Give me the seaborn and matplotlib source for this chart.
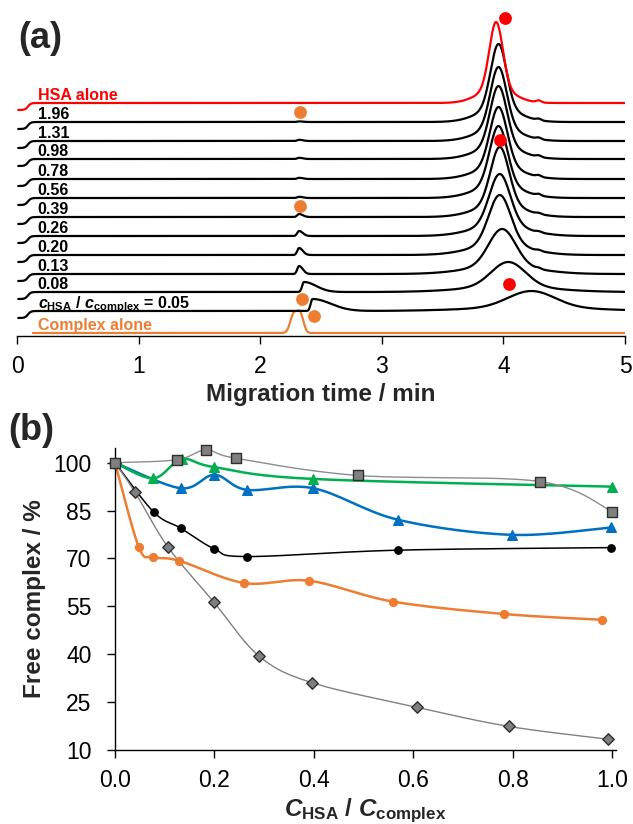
import numpy as np
import pandas as pd
import matplotlib.pyplot as plt
import seaborn as sns

# ---------------- panel (a): electropherograms ----------------
trace_labels = ["Complex alone", r"$c_{\rm HSA}$ / $c_{\rm complex}$ = 0.05", "0.08", "0.13",
                "0.20", "0.26", "0.39", "0.56", "0.78", "0.98", "1.31", "1.96", "HSA alone"]
trace_colors = ["#ED7D31"] + ["black"] * 11 + ["#FF0000"]
offsets = [0, 22, 41, 59, 78, 97, 116, 135, 154, 174, 192, 211, 230]

# HSA peak (position, height, width)
hsa_pos = [0, 4.23, 4.04, 3.99, 3.97, 3.97, 3.97, 3.96, 3.96, 3.96, 3.96, 3.96, 3.94]
hsa_height = [0, 20, 30, 45, 60, 62, 70, 72, 72, 73, 74, 78, 81]
hsa_width = [0.1, 0.19, 0.14, 0.11, 0.09, 0.085, 0.075, 0.072, 0.07, 0.068, 0.066, 0.064, 0.055]
# free complex peak
cx_pos = [2.30, 2.43, 2.36, 2.32, 2.32, 2.32, 2.32, 2.32, 2.32, 2.32, 2.32, 2.32, 2.32]
cx_height = [19, 12, 10, 8, 7, 5, 3, 1.2, 1.2, 1.2, 1.2, 0.6, 0]
cx_tail = [0.03, 0.15, 0.10, 0.03, 0.03, 0.03, 0.03, 0.03, 0.03, 0.03, 0.03, 0.03, 0.03]
# small bump after the HSA peak
bump_height = [0, 0, 0, 1, 1, 1, 1, 1.5, 1.5, 1.5, 1.5, 1.5, 2]

red_dots_t = [4.01, 3.97, 4.05]
red_dots_y = [315, 193, 49]
orange_dots_t = [2.33, 2.33, 2.34, 2.44]
orange_dots_y = [221, 127, 34, 17]

# ---------------- panel (b): free complex vs ratio ----------------
sq_x = [0.0, 0.124, 0.183, 0.243, 0.488, 0.855, 1.0]
sq_y = [100, 100.9, 104.0, 101.4, 96.0, 94.1, 84.7]
green_x = [0.0, 0.077, 0.134, 0.200, 0.399, 1.0]
green_y = [100, 95.1, 101.1, 98.6, 94.9, 92.5]
blue_x = [0.0, 0.132, 0.200, 0.265, 0.399, 0.570, 0.798, 0.998]
blue_y = [100, 92.0, 96.2, 91.5, 92.0, 82.1, 77.4, 79.7]
black_x = [0.0, 0.078, 0.132, 0.200, 0.265, 0.570, 0.998]
black_y = [100, 84.5, 79.5, 73.0, 70.6, 72.6, 73.4]
orange_x = [0.0, 0.048, 0.077, 0.129, 0.260, 0.391, 0.559, 0.783, 0.979]
orange_y = [100, 73.5, 70.4, 69.3, 62.3, 63.0, 56.5, 52.6, 50.8]
dia_x = [0.0, 0.040, 0.106, 0.199, 0.290, 0.396, 0.607, 0.792, 0.991]
dia_y = [100, 90.8, 73.7, 56.3, 39.4, 31.1, 23.4, 17.4, 13.4]


def gauss(t, c, s):
    return np.exp(-0.5 * ((t - c) / s) ** 2)


def asym_peak(t, c, h, sl, sr):
    s = np.where(t < c, sl, sr)
    return h * np.exp(-0.5 * ((t - c) / s) ** 2)


def smooth(xs, ys, sx=497.0, sy=3.19, n=30):
    # Excel-like smoothed line (Bezier through the points)
    P = np.column_stack([np.array(xs) * sx, np.array(ys) * sy])
    E = np.vstack([P[0], P, P[-1]])
    parts = []
    u = np.linspace(0, 1, n)[:, None]
    for i in range(len(P) - 1):
        p0, p1, p2, p3 = E[i], E[i + 1], E[i + 2], E[i + 3]
        c1 = p1 + (p2 - p0) / 6
        c2 = p2 - (p3 - p1) / 6
        seg = (1 - u) ** 3 * p1 + 3 * (1 - u) ** 2 * u * c1 + 3 * (1 - u) * u ** 2 * c2 + u ** 3 * p2
        parts.append(seg if i == 0 else seg[1:])
    pts = np.vstack(parts)
    return pts[:, 0] / sx, pts[:, 1] / sy


sns.set_theme(style="white")
plt.rcParams["font.family"] = ["Liberation Sans", "DejaVu Sans"]
plt.rcParams["mathtext.fontset"] = "custom"
plt.rcParams["mathtext.rm"] = "Liberation Sans:bold"
plt.rcParams["mathtext.it"] = "Liberation Sans:italic:bold"
plt.rcParams["mathtext.bf"] = "Liberation Sans:bold"

fig = plt.figure(figsize=(6.33, 8.24), dpi=100)

# ---- (a)
ax1 = fig.add_axes([17 / 633, 1 - 336 / 824, 608 / 633, 326 / 824])
for i in range(len(trace_labels)):
    if i == 0:
        t = np.linspace(0.13, 5, 1500)
        h = cx_height[i] / 1.02
        sig = h * (gauss(t, cx_pos[i] - 0.025, 0.028) + gauss(t, cx_pos[i] + 0.03, 0.026))
    else:
        t = np.linspace(0.01, 5, 1500)
        start = -7 / (1 + np.exp(-(0.09 - t) / 0.012))
        main = hsa_height[i] * (0.82 * gauss(t, hsa_pos[i], hsa_width[i]) +
                                0.18 * gauss(t, hsa_pos[i], 2.6 * hsa_width[i]))
        small = asym_peak(t, cx_pos[i], cx_height[i], 0.015, cx_tail[i])
        bump = bump_height[i] * gauss(t, 4.29, 0.02)
        sig = start + main + small + bump
    sns.lineplot(x=t, y=sig + offsets[i], color=trace_colors[i], lw=1.6,
                 sort=False, estimator=None, ax=ax1)
    ax1.text(0.17, offsets[i] + 3, trace_labels[i], color=trace_colors[i],
             fontsize=11.5, fontweight="bold", va="baseline", ha="left")

sns.scatterplot(x=red_dots_t, y=red_dots_y, color="#FF0000", s=85, linewidth=0, ax=ax1, zorder=5)
sns.scatterplot(x=orange_dots_t, y=orange_dots_y, color="#ED7D31", s=85, linewidth=0, ax=ax1, zorder=5)

ax1.set_xlim(0, 5)
ax1.set_ylim(-3, 323)
ax1.set_xticks([0, 1, 2, 3, 4, 5])
ax1.set_yticks([])
for sp in ["left", "right", "top"]:
    ax1.spines[sp].set_visible(False)
ax1.spines["bottom"].set_color("black")
ax1.spines["bottom"].set_linewidth(1)
ax1.tick_params(axis="x", direction="out", length=6, width=1, pad=8,
                labelsize=16.5, colors="black", bottom=True)
ax1.set_xlabel("Migration time / min", fontsize=17.5, fontweight="bold", labelpad=3)
ax1.set_ylabel("")
fig.text(18 / 633, 1 - 38 / 824, "(a)", fontsize=26, fontweight="bold", va="center", ha="left")

# ---- (b)
ax2 = fig.add_axes([115 / 633, 1 - 750 / 824, 501 / 633, 302 / 824])
series = [
    (orange_x, orange_y, "#ED7D31", "#ED7D31", "o", 32, 1.8, "#ED7D31"),
    (black_x, black_y, "black", "black", "o", 28, 1.1, "black"),
    (blue_x, blue_y, "#0070C0", "#0070C0", "^", 48, 1.8, "#0070C0"),
    (green_x, green_y, "#00B050", "#00B050", "^", 48, 1.8, "#00B050"),
    (dia_x, dia_y, "#808080", "#7F7F7F", "D", 34, 1.0, "#2E2E2E"),
    (sq_x, sq_y, "#8C8C8C", "#7F7F7F", "s", 58, 1.0, "#2E2E2E"),
]
for k, (xs, ys, lc, fc, mk, ms, lw, ec) in enumerate(series):
    sx_, sy_ = smooth(xs, ys)
    sns.lineplot(x=sx_, y=sy_, color=lc, lw=lw, sort=False, estimator=None, ax=ax2, zorder=2 + k)
    sns.scatterplot(x=xs, y=ys, marker=mk, s=ms, color=fc, edgecolor=ec, linewidth=1,
                    ax=ax2, zorder=10 + k, clip_on=False)

ax2.set_xlim(0, 1.008)
ax2.set_ylim(10, 104.6)
ax2.set_xticks([0.0, 0.2, 0.4, 0.6, 0.8, 1.0])
ax2.set_xticklabels(["0.0", "0.2", "0.4", "0.6", "0.8", "1.0"])
ax2.set_yticks([10, 25, 40, 55, 70, 85, 100])
for sp in ["right", "top"]:
    ax2.spines[sp].set_visible(False)
for sp in ["left", "bottom"]:
    ax2.spines[sp].set_color("black")
    ax2.spines[sp].set_linewidth(1)
ax2.tick_params(direction="out", length=6, width=1, pad=8, labelsize=16.5, colors="black",
                bottom=True, left=True)
ax2.tick_params(axis="y", pad=11)
ax2.set_xlabel(r"$C_{\rm HSA}$ / $C_{\rm complex}$", fontsize=17.5, fontweight="bold", labelpad=3)
ax2.set_ylabel("Free complex / %", fontsize=17.5, fontweight="bold", labelpad=5)
fig.text(8 / 633, 1 - 430 / 824, "(b)", fontsize=26, fontweight="bold", va="center", ha="left")

fig.savefig("out.png", dpi=100)
